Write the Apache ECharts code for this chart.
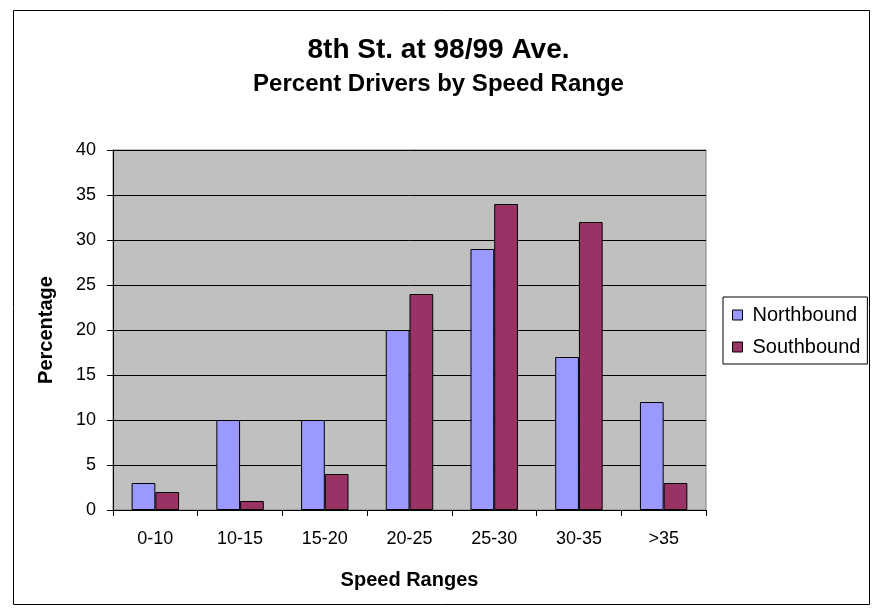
<!DOCTYPE html>
<html>
<head>
<meta charset="utf-8">
<script src="https://cdn.jsdelivr.net/npm/echarts@6/dist/echarts.min.js"></script>
<style>
html,body{margin:0;padding:0;background:#fff;}
#chart{width:877px;height:610px;}
</style>
</head>
<body>
<div id="chart"></div>
<script>
const categories = ['0-10','10-15','15-20','20-25','25-30','30-35','>35'];
const northbound = [3,10,10,20,29,17,12];
const southbound = [2,1,4,24,34,32,3];
const yTicks = {min:0, max:40, interval:5};

const font = '"Liberation Sans", Arial, sans-serif';
const chart = echarts.init(document.getElementById('chart'));
chart.setOption({
  backgroundColor:'#fff',
  animation:false,
  textStyle:{fontFamily:font},
  title:[
    {text:'8th St. at 98/99 Ave.', left:'center', top:31,
     textStyle:{fontFamily:font, fontSize:28, fontWeight:'bold', color:'#000'}},
    {text:'Percent Drivers by Speed Range', left:'center', top:67,
     textStyle:{fontFamily:font, fontSize:24, fontWeight:'bold', color:'#000'}}
  ],
  graphic:[{type:'rect', shape:{x:13.5,y:10.5,width:856,height:594},
    style:{fill:'none', stroke:'#000', lineWidth:1}, silent:true}],
  legend:{
    orient:'vertical', left:723, top:297,
    data:['Northbound','Southbound'],
    icon:'rect', itemWidth:10, itemHeight:10, itemGap:12,
    borderColor:'#000', borderWidth:1, padding:[8,7,7,9],
    itemStyle:{borderColor:'#000', borderWidth:1},
    textStyle:{fontFamily:font, fontSize:20, color:'#000', padding:[0,0,0,5]}
  },
  grid:{left:113, right:171, top:150, bottom:100, show:true,
    backgroundColor:'#C0C0C0', borderColor:'#808080', borderWidth:1},
  xAxis:{
    type:'category', data:categories,
    name:'Speed Ranges', nameLocation:'middle', nameGap:60,
    nameTextStyle:{fontFamily:font, fontSize:20, fontWeight:'bold', color:'#000'},
    axisLine:{lineStyle:{color:'#000', width:1}},
    axisTick:{show:true, length:6, lineStyle:{color:'#000'}},
    axisLabel:{fontFamily:font, fontSize:18, color:'#000', margin:20}
  },
  yAxis:{
    type:'value', min:yTicks.min, max:yTicks.max, interval:yTicks.interval,
    name:'Percentage', nameLocation:'middle', nameGap:57,
    nameTextStyle:{fontFamily:font, fontSize:20, fontWeight:'bold', color:'#000'},
    axisLine:{show:true, lineStyle:{color:'#000', width:1}},
    axisTick:{show:true, length:6, lineStyle:{color:'#000'}},
    axisLabel:{fontFamily:font, fontSize:18, color:'#000', margin:17},
    splitLine:{show:true, lineStyle:{color:'#000', width:1}}
  },
  series:[
    {name:'Northbound', type:'bar', data:northbound, barGap:'0%', barCategoryGap:'44%',
     itemStyle:{color:'#9999FF', borderColor:'#000', borderWidth:1}},
    {name:'Southbound', type:'bar', data:southbound, barGap:'0%', barCategoryGap:'44%',
     itemStyle:{color:'#993366', borderColor:'#000', borderWidth:1}}
  ]
});
</script>
</body>
</html>
